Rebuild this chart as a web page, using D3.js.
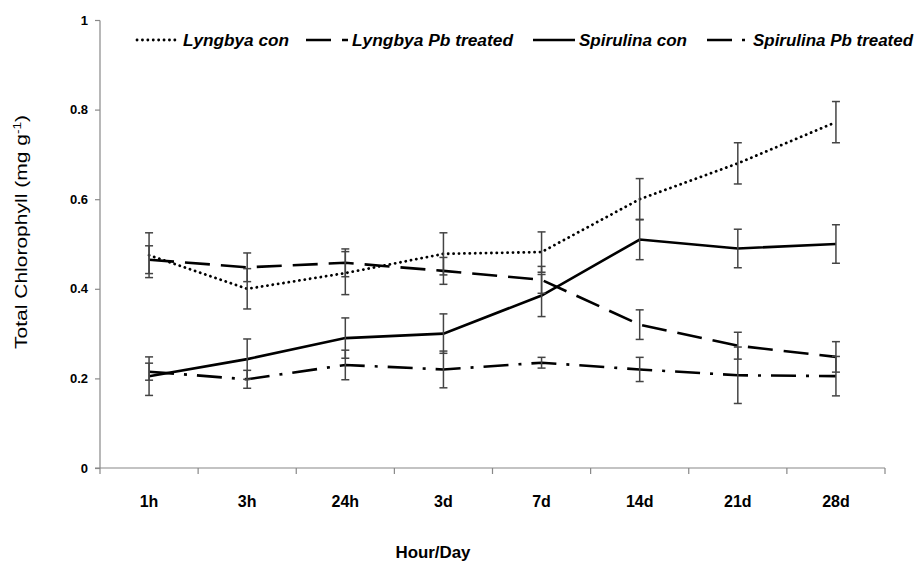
<!DOCTYPE html>
<html>
<head>
<meta charset="utf-8">
<script src="https://cdn.jsdelivr.net/npm/d3@7"></script>
<style>
  body { margin: 0; background: #fff; }
  svg { display: block; }
  .tick text { font-family: "Liberation Sans", Arial, sans-serif; font-weight: bold; fill: #000; }
</style>
</head>
<body>
<div id="chart"></div>
<script>
// Data
var categories = ["1h", "3h", "24h", "3d", "7d", "14d", "21d", "28d"];
var seriesNames = ["Lyngbya con", "Lyngbya Pb treated", "Spirulina con", "Spirulina Pb treated"];

var lyngbyaCon = [0.475, 0.400, 0.435, 0.478, 0.482, 0.600, 0.680, 0.772];
var lyngbyaConErr = [0.050, 0.045, 0.048, 0.047, 0.045, 0.046, 0.046, 0.046];

var lyngbyaPb = [0.465, 0.448, 0.458, 0.440, 0.420, 0.320, 0.273, 0.248];
var lyngbyaPbErr = [0.031, 0.032, 0.031, 0.030, 0.030, 0.033, 0.030, 0.034];

var spirulinaCon = [0.205, 0.243, 0.290, 0.300, 0.385, 0.510, 0.490, 0.500];
var spirulinaConErr = [0.043, 0.045, 0.045, 0.044, 0.047, 0.045, 0.043, 0.043];

var spirulinaPb = [0.215, 0.198, 0.230, 0.220, 0.235, 0.220, 0.207, 0.205];
var spirulinaPbErr = [0.019, 0.020, 0.033, 0.041, 0.012, 0.027, 0.063, 0.044];

var yTicks = [0, 0.2, 0.4, 0.6, 0.8, 1];

var series = [
  { name: seriesNames[0], values: lyngbyaCon, err: lyngbyaConErr, dash: "0.1,5.3", cap: "round", width: 2.8 },
  { name: seriesNames[1], values: lyngbyaPb, err: lyngbyaPbErr, dash: "25,11", cap: "butt", width: 2.6 },
  { name: seriesNames[2], values: spirulinaCon, err: spirulinaConErr, dash: null, cap: "butt", width: 2.6 },
  { name: seriesNames[3], values: spirulinaPb, err: spirulinaPbErr, dash: "25,10,3,10", cap: "butt", width: 2.6 }
];

// Sizes
var svgW = 917, svgH = 569;
var margin = { top: 20, right: 32, bottom: 101, left: 100 };
var w = svgW - margin.left - margin.right;
var h = svgH - margin.top - margin.bottom;

var svg = d3.select("#chart").append("svg")
  .attr("width", svgW)
  .attr("height", svgH);

var g = svg.append("g")
  .attr("transform", "translate(" + margin.left + "," + margin.top + ")");

// Scales
var xScale = d3.scaleBand().domain(categories).range([0, w]);
var yScale = d3.scaleLinear().domain([0, 1]).range([h, 0]);
var xc = function (c) { return xScale(c) + xScale.bandwidth() / 2; };

// Y axis
var yAxis = g.append("g")
  .call(d3.axisLeft(yScale).tickValues(yTicks).tickSize(5).tickPadding(7)
    .tickFormat(function (d) { return d === 0 ? "0" : d === 1 ? "1" : d3.format(".1f")(d); }));
yAxis.selectAll("path, line").attr("stroke", "#888").attr("stroke-width", 1.2);
yAxis.select(".domain").attr("d", "M0," + h + "V0.5");
yAxis.selectAll("text").style("font-size", "13px");

// X axis: ticks on band edges
var xAxisG = g.append("g").attr("transform", "translate(0," + h + ")");
xAxisG.append("line").attr("x1", -5).attr("x2", w).attr("stroke", "#888").attr("stroke-width", 1.2);
xAxisG.selectAll(".edge")
  .data(categories.concat(["end"]))
  .enter().append("line")
  .attr("class", "edge")
  .attr("x1", function (d, i) { return i < categories.length ? xScale(d) : w; })
  .attr("x2", function (d, i) { return i < categories.length ? xScale(d) : w; })
  .attr("y1", 0).attr("y2", 6)
  .attr("stroke", "#888").attr("stroke-width", 1.2);
xAxisG.selectAll(".xl")
  .data(categories)
  .enter().append("text")
  .attr("x", xc)
  .attr("y", 39)
  .attr("text-anchor", "middle")
  .style("font-family", "'Liberation Sans', Arial, sans-serif")
  .style("font-weight", "bold")
  .style("font-size", "16px")
  .text(function (d) { return d; });

// Lines
var line = d3.line()
  .x(function (d, i) { return xc(categories[i]); })
  .y(function (d) { return yScale(d); });

series.forEach(function (s) {
  g.append("path")
    .datum(s.values)
    .attr("fill", "none")
    .attr("stroke", "#000")
    .attr("stroke-width", s.width)
    .attr("stroke-linecap", s.cap)
    .attr("stroke-dasharray", s.dash)
    .attr("d", line);
});

// Error bars
series.forEach(function (s) {
  var eb = g.append("g").attr("stroke", "#444").attr("stroke-width", 1.5);
  s.values.forEach(function (v, i) {
    var x = xc(categories[i]);
    var y0 = yScale(v - s.err[i]), y1 = yScale(v + s.err[i]);
    eb.append("line").attr("x1", x).attr("x2", x).attr("y1", y0).attr("y2", y1);
    eb.append("line").attr("x1", x - 4).attr("x2", x + 4).attr("y1", y0).attr("y2", y0);
    eb.append("line").attr("x1", x - 4).attr("x2", x + 4).attr("y1", y1).attr("y2", y1);
  });
});

// Axis titles
svg.append("text")
  .attr("transform", "translate(27," + 232 + ") rotate(-90)")
  .attr("text-anchor", "middle")
  .attr("textLength", 234)
  .attr("lengthAdjust", "spacingAndGlyphs")
  .style("font-family", "'Liberation Sans', Arial, sans-serif")
  .style("font-size", "17px")
  .call(function (t) {
    t.append("tspan").text("Total Chlorophyll (mg g");
    t.append("tspan").attr("dy", -6).style("font-size", "11px").text("-1");
    t.append("tspan").attr("dy", 6).text(")");
  });

svg.append("text")
  .attr("x", 433)
  .attr("y", 558)
  .attr("text-anchor", "middle")
  .attr("textLength", 75)
  .attr("lengthAdjust", "spacingAndGlyphs")
  .style("font-family", "'Liberation Sans', Arial, sans-serif")
  .style("font-weight", "bold")
  .style("font-size", "16px")
  .text("Hour/Day");

// Legend
var legendX = [137, 306, 533, 707];
var legendTextW = [106, 161, 108, 160];
var legend = svg.append("g").attr("transform", "translate(0,40)");
series.forEach(function (s, i) {
  legend.append("line")
    .attr("x1", legendX[i]).attr("x2", legendX[i] + 42)
    .attr("stroke", "#000")
    .attr("stroke-width", s.width)
    .attr("stroke-linecap", s.cap)
    .attr("stroke-dasharray", s.dash);
  legend.append("text")
    .attr("x", legendX[i] + 46)
    .attr("y", 5.5)
    .attr("textLength", legendTextW[i])
    .attr("lengthAdjust", "spacingAndGlyphs")
    .style("font-family", "'Liberation Sans', Arial, sans-serif")
    .style("font-weight", "bold")
    .style("font-style", "italic")
    .style("font-size", "16px")
    .text(s.name);
});
</script>
</body>
</html>
